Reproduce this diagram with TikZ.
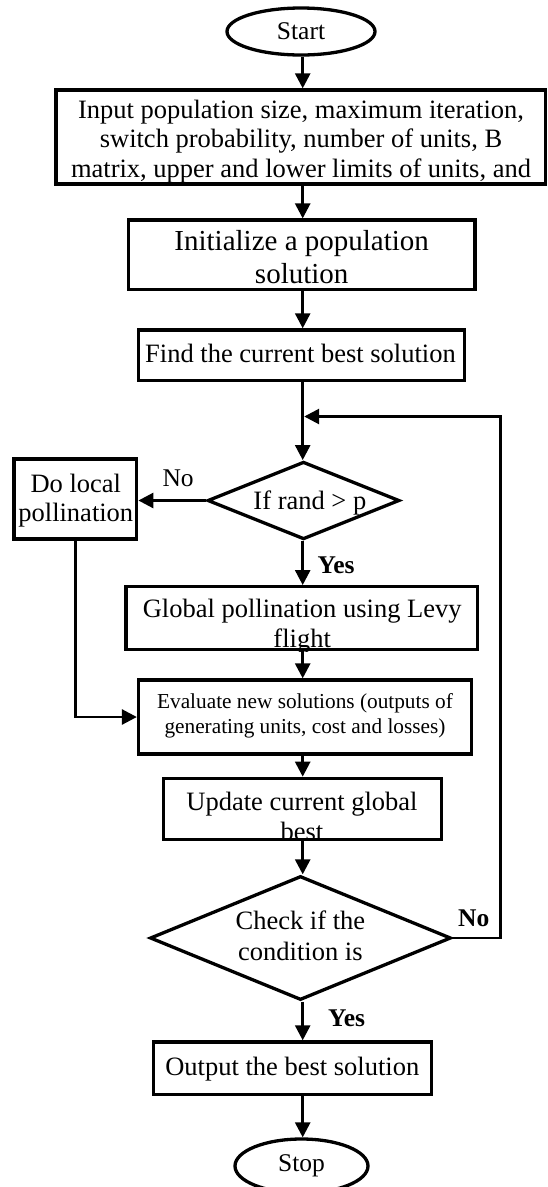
\documentclass[tikz,border=0pt]{standalone}
\usepackage{fontspec}
\setmainfont{Liberation Serif}
\usetikzlibrary{shapes.geometric,arrows.meta}
\newcommand\fA{\fontsize{26.5}{29.3}\selectfont}
\newcommand\fB{\fontsize{29}{33.3}\selectfont}
\newcommand\fC{\fontsize{21.3}{25}\selectfont}
\newcommand\fL{\fontsize{25.5}{29}\selectfont}
\begin{document}
\begin{tikzpicture}[x=1pt,y=-1pt,
  box/.style={draw,rectangle,line width=3.3pt,inner sep=0pt},
  term/.style={draw,ellipse,line width=3.3pt,inner sep=0pt,font=\fL},
  dec/.style={draw,diamond,line width=3.3pt,inner sep=0pt},
  arr/.style={line width=2.7pt,-{Triangle[length=15pt,width=15pt]}},
  txt/.style={inner sep=0pt,align=center,anchor=north},
  lbl/.style={inner sep=0pt,anchor=base},
  lblw/.style={inner sep=0pt,anchor=base west,font=\fL}]
\useasboundingbox (0,0) rectangle (547,1187);
\fill[white] (0,0) rectangle (547,1187);
\coordinate (ax) at (302.7,0);
% shapes
\node[term,minimum width=148pt,minimum height=47pt] (start) at (301,31.5) {Start};
\node[box,minimum width=489.5pt,minimum height=94pt] (input) at (300.6,137) {};
\node[box,minimum width=346.6pt,minimum height=69.3pt] (init) at (301.7,254.7) {};
\node[box,minimum width=326.1pt,minimum height=50.7pt] (find) at (301.55,355.3) {};
\node[dec,minimum width=192pt,minimum height=77.6pt] (dia1) at (303.5,500.5) {};
\node[box,minimum width=122.7pt,minimum height=80pt] (local) at (75.4,499) {};
\node[box,minimum width=351.8pt,minimum height=62.8pt] (global) at (301.9,618.1) {};
\node[box,minimum width=333pt,minimum height=74pt] (eval) at (305,717) {};
\node[box,minimum width=278pt,minimum height=61pt] (update) at (302.2,808.8) {};
\node[dec,minimum width=301pt,minimum height=124pt] (dia2) at (300.5,938) {};
\node[box,minimum width=278.3pt,minimum height=52.7pt] (output) at (292.6,1068.3) {};
\node[term,minimum width=133pt,minimum height=54pt] (stop) at (301.5,1166) {Stop};
% texts
\node[txt,font=\fA] (input-t) at (301,97.8) {\strut Input population size, maximum iteration,\\\strut switch probability, number of units, B\\\strut matrix, upper and lower limits of units, and};
\node[txt,font=\fB] (init-t) at (301.7,226.7) {\strut Initialize a population\\\strut solution};
\node[lbl,font=\fA] (find-t) at (300.5,362.7) {Find the current best solution};
\node[lbl,font=\fA] (dia1-t) at (309.9,509.3) {If rand > p};
\node[txt,font=\fontsize{26.5}{29.4}\selectfont] (local-t) at (75.8,471.7) {\strut Do local\\\strut pollination};
\begin{scope}
\clip (global.south west) rectangle (global.north east);
\node[txt,font=\fontsize{26.5}{30}\selectfont] (global-t) at (302.2,596) {\strut Global pollination using Levy\\\strut flight};
\end{scope}
\node[txt,font=\fC] (eval-t) at (305,690.8) {\strut Evaluate new solutions (outputs of\\\strut generating units, cost and losses)};
\begin{scope}
\clip (update.south west) rectangle (update.north east);
\node[txt,font=\fontsize{26.5}{30}\selectfont] (update-t) at (302,789.5) {\strut Update current global\\\strut best};
\end{scope}
\node[txt,font=\fontsize{26.5}{30.7}\selectfont] (dia2-t) at (300.4,907.8) {\strut Check if the\\\strut condition is};
\node[lbl,font=\fA] (output-t) at (292.3,1075) {Output the best solution};
\node[lblw] (no1) at (162.3,486.7) {No};
\node[lblw] (yes1) at (317.5,573) {\textbf{Yes}};
\node[lblw] (no2) at (458,926.7) {\textbf{No}};
\node[lblw] (yes2) at (328,1026.7) {\textbf{Yes}};
% connectors
\draw[arr] (start.south -| ax) -- (input.north -| ax);
\draw[arr] (input.south -| ax) -- (init.north -| ax);
\draw[arr] (init.south -| ax) -- (find.north -| ax);
\draw[arr] (find.south -| ax) -- (dia1.north -| ax);
\draw[arr] (dia1.west) -- (dia1.west -| local.east);
\draw[arr] (local.south) |- (eval.west);
\draw[arr] (dia1.south -| ax) -- (global.north -| ax);
\draw[arr] (global.south -| ax) -- (eval.north -| ax);
\draw[arr] (eval.south -| ax) -- (update.north -| ax);
\draw[arr] (update.south -| ax) -- (dia2.north -| ax);
\draw[arr] (dia2.south -| ax) -- (output.north -| ax);
\draw[arr] (output.south -| ax) -- (stop.north -| ax);
\coordinate (lp) at (500.5,416.5);
\coordinate (lpend) at (304.2,416.5);
\draw[arr] (dia2.east) -| (lp) -- (lpend);
\end{tikzpicture}
\end{document}
